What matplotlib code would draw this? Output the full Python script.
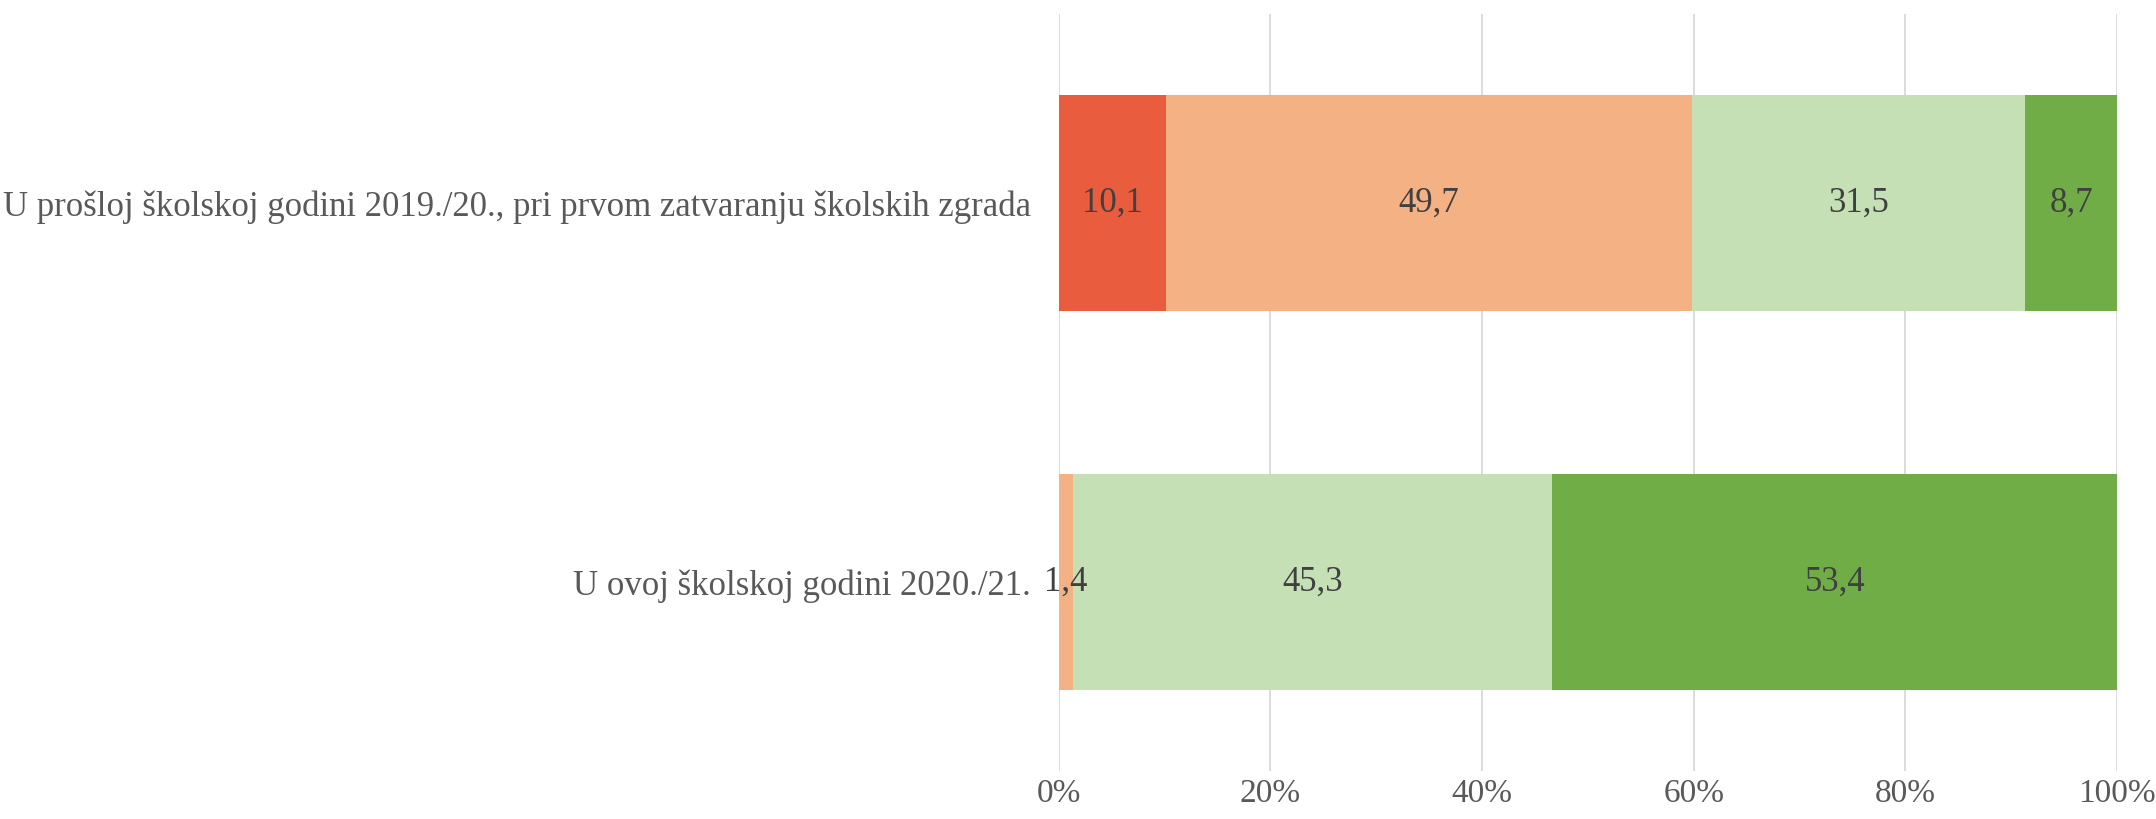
import matplotlib
matplotlib.use("Agg")
import matplotlib.pyplot as plt
import numpy as np

categories = ["U prošloj školskoj godini 2019./20., pri prvom zatvaranju školskih zgrada",
              "U ovoj školskoj godini 2020./21."]
series_values = [
    [10.1, 0.0],
    [49.7, 1.4],
    [31.5, 45.3],
    [8.7, 53.4],
]
colors = ["#E95C3D", "#F4B183", "#C5E0B4", "#70AD47"]
xticks = [0, 20, 40, 60, 80, 100]
xtick_labels = ["0%", "20%", "40%", "60%", "80%", "100%"]

plt.rcParams['font.family'] = ['Liberation Serif', 'DejaVu Serif']

fig = plt.figure(figsize=(21.56, 8.19), dpi=100)
ax = fig.add_axes([0.491, 0.058, 0.491, 0.925])

y = np.arange(len(categories))
totals = np.sum(series_values, axis=0)
left = np.zeros(len(categories))
for vals, c in zip(series_values, colors):
    vals = np.array(vals)
    pct = vals / totals * 100
    ax.barh(y, pct, left=left, height=0.57, color=c, zorder=3)
    for yi, (l, p, v) in enumerate(zip(left, pct, vals)):
        if v > 0:
            ax.text(l + p / 2, yi, f"{v:.1f}".replace(".", ","), ha="center", va="center",
                    fontsize=25, color="#404040", zorder=4)
    left += pct

ax.set_xlim(0, 100)
ax.set_ylim(len(categories) - 0.5, -0.5)
ax.set_yticks(y)
ax.set_yticklabels(categories, fontsize=25, color="#595959")
ax.set_xticks(xticks)
ax.set_xticklabels(xtick_labels, fontsize=24, color="#595959")
ax.tick_params(axis="both", length=0)
ax.tick_params(axis="x", pad=5)
ax.tick_params(axis="y", pad=20)
ax.grid(axis="x", color="#D9D9D9", linewidth=1.3, zorder=0)
for s in ax.spines.values():
    s.set_visible(False)

fig.savefig("out.png", dpi=100)
